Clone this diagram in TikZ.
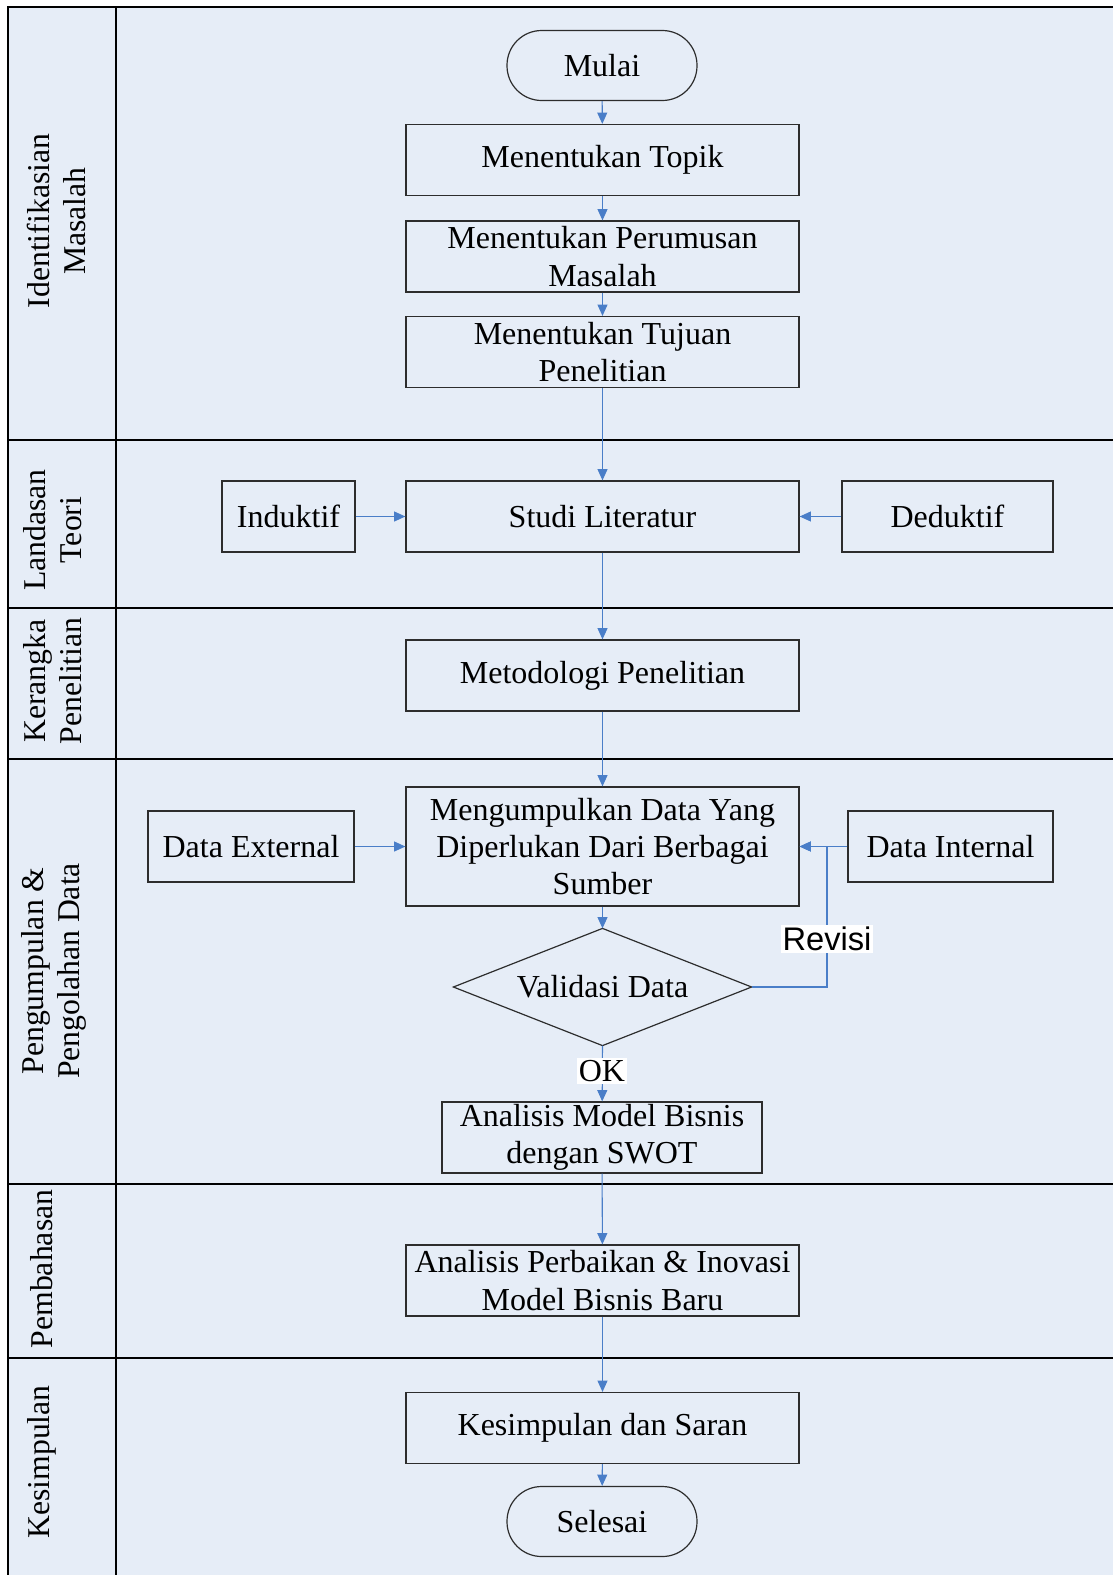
\documentclass[tikz,border=0pt]{standalone}
\usepackage{fontspec}
\setmainfont{Liberation Serif}
\newfontfamily\arialfont{Liberation Sans}
\usetikzlibrary{arrows.meta}
\definecolor{lanebg}{RGB}{230,237,247}
\definecolor{flowblue}{RGB}{74,126,200}
\definecolor{boxline}{RGB}{45,45,45}
\tikzset{
  base/.style={draw=boxline, line width=0.9pt, align=center, inner sep=0pt,
    font=\fontsize{24pt}{28pt}\selectfont},
  stepbox/.style={base, rectangle, minimum width=294.75pt, minimum height=53.25pt},
  terminal/.style={base, rectangle, rounded corners=26pt, minimum width=142.5pt, minimum height=52.5pt},
  decision/.style={base, draw=none, rectangle, minimum width=222.75pt, minimum height=87pt},
  diamondline/.style={draw=boxline, line width=0.9pt},
  flow/.style={draw=flowblue, line width=0.8pt, -{Triangle[length=8.5pt,width=7.5pt]}},
  laneline/.style={draw=black, line width=0.9pt},
  lanelabel/.style={rotate=90, align=center, inner sep=0pt,
    font=\fontsize{23.8pt}{27pt}\selectfont},
  flowlabel/.style={fill=white, inner sep=1.5pt}
}
\begin{document}
\begin{tikzpicture}[x=0.75pt, y=-0.75pt]
\useasboundingbox (0,0) rectangle (1113,1575);

% swimlane background and borders
\fill[lanebg] (8,7) rectangle (1113,1575);
\draw[laneline] (1113,7) -- (8,7) -- (8,1575);
\draw[laneline] (116,7) -- (116,1575);
\foreach \yy in {440,608,759,1184,1358}
  \draw[laneline] (8,\yy) -- (1113,\yy);

% lane titles
\node[lanelabel] (l1) at (56,221) {Identifikasian\\Masalah};
\node[lanelabel] (l2) at (53,530) {Landasan\\Teori};
\node[lanelabel] (l3) at (53,681) {Kerangka\\Penelitian};
\node[lanelabel] (l4) at (54,971) {Pengumpulan \&\\Pengolahan Data};
\node[lanelabel] (l5) at (42,1269) {Pembahasan};
\node[lanelabel] (l6) at (42,1462) {Kesimpulan};

% flow nodes
\node[terminal] (mulai) at (602,65.5) {Mulai};
\node[stepbox] (topik) at (602.5,160) {Menentukan Topik};
\node[stepbox] (rumus) at (602.5,256.5) {Menentukan Perumusan\\Masalah};
\node[stepbox] (tujuan) at (602.5,352) {Menentukan Tujuan\\Penelitian};
\node[stepbox] (studi) at (602.5,516.5) {Studi Literatur};
\node[base, minimum width=99.75pt, minimum height=53.25pt] (induktif) at (288.5,516.5) {Induktif};
\node[base, minimum width=158.25pt, minimum height=53.25pt] (deduktif) at (947.5,516.5) {Deduktif};
\node[stepbox] (metode) at (602.5,675.5) {Metodologi Penelitian};
\node[stepbox, minimum height=89.25pt] (kumpul) at (602.5,846.5) {Mengumpulkan Data Yang\\Diperlukan Dari Berbagai\\Sumber};
\node[base, minimum width=154.5pt, minimum height=53.25pt] (dext) at (251,846.5) {Data External};
\node[base, minimum width=153.75pt, minimum height=53.25pt] (dint) at (950.5,846.5) {Data Internal};
\node[decision] (valid) at (602.5,987) {Validasi Data};
\draw[diamondline] (valid.north) -- (valid.east) -- (valid.south) -- (valid.west) -- cycle;
\node[base, minimum width=240pt, minimum height=53.25pt] (swot) at (602,1137.5) {Analisis Model Bisnis\\dengan SWOT};
\node[stepbox] (inovasi) at (602.5,1280.5) {Analisis Perbaikan \& Inovasi\\Model Bisnis Baru};
\node[stepbox] (saran) at (602.5,1428) {Kesimpulan dan Saran};
\node[terminal] (selesai) at (602,1521.5) {Selesai};

% connectors
\draw[flow] (mulai) -- (topik);
\draw[flow] (topik) -- (rumus);
\draw[flow] (rumus) -- (tujuan);
\draw[flow] (tujuan) -- (studi);
\draw[flow] (induktif) -- (studi);
\draw[flow] (deduktif) -- (studi);
\draw[flow] (studi) -- (metode);
\draw[flow] (metode) -- (kumpul);
\draw[flow] (dext) -- (kumpul);
\draw[flow] (dint) -- (kumpul);
\draw[flow] (kumpul) -- (valid.north);
\coordinate (rev) at (827,987);
\draw[flow] (valid.east) -- (rev) -- (rev |- kumpul.east) -- (kumpul.east);
\node[flowlabel, font=\arialfont\fontsize{24.5pt}{28pt}\selectfont] (revisi) at (827,939) {Revisi};
\draw[flow] (valid.south) -- (swot);
\node[flowlabel, font=\fontsize{24pt}{28pt}\selectfont] (ok) at (602,1071) {OK};
\draw[flow] (swot) -- (inovasi);
\draw[flow] (inovasi) -- (saran);
\draw[flow] (saran) -- (selesai);
\end{tikzpicture}
\end{document}
